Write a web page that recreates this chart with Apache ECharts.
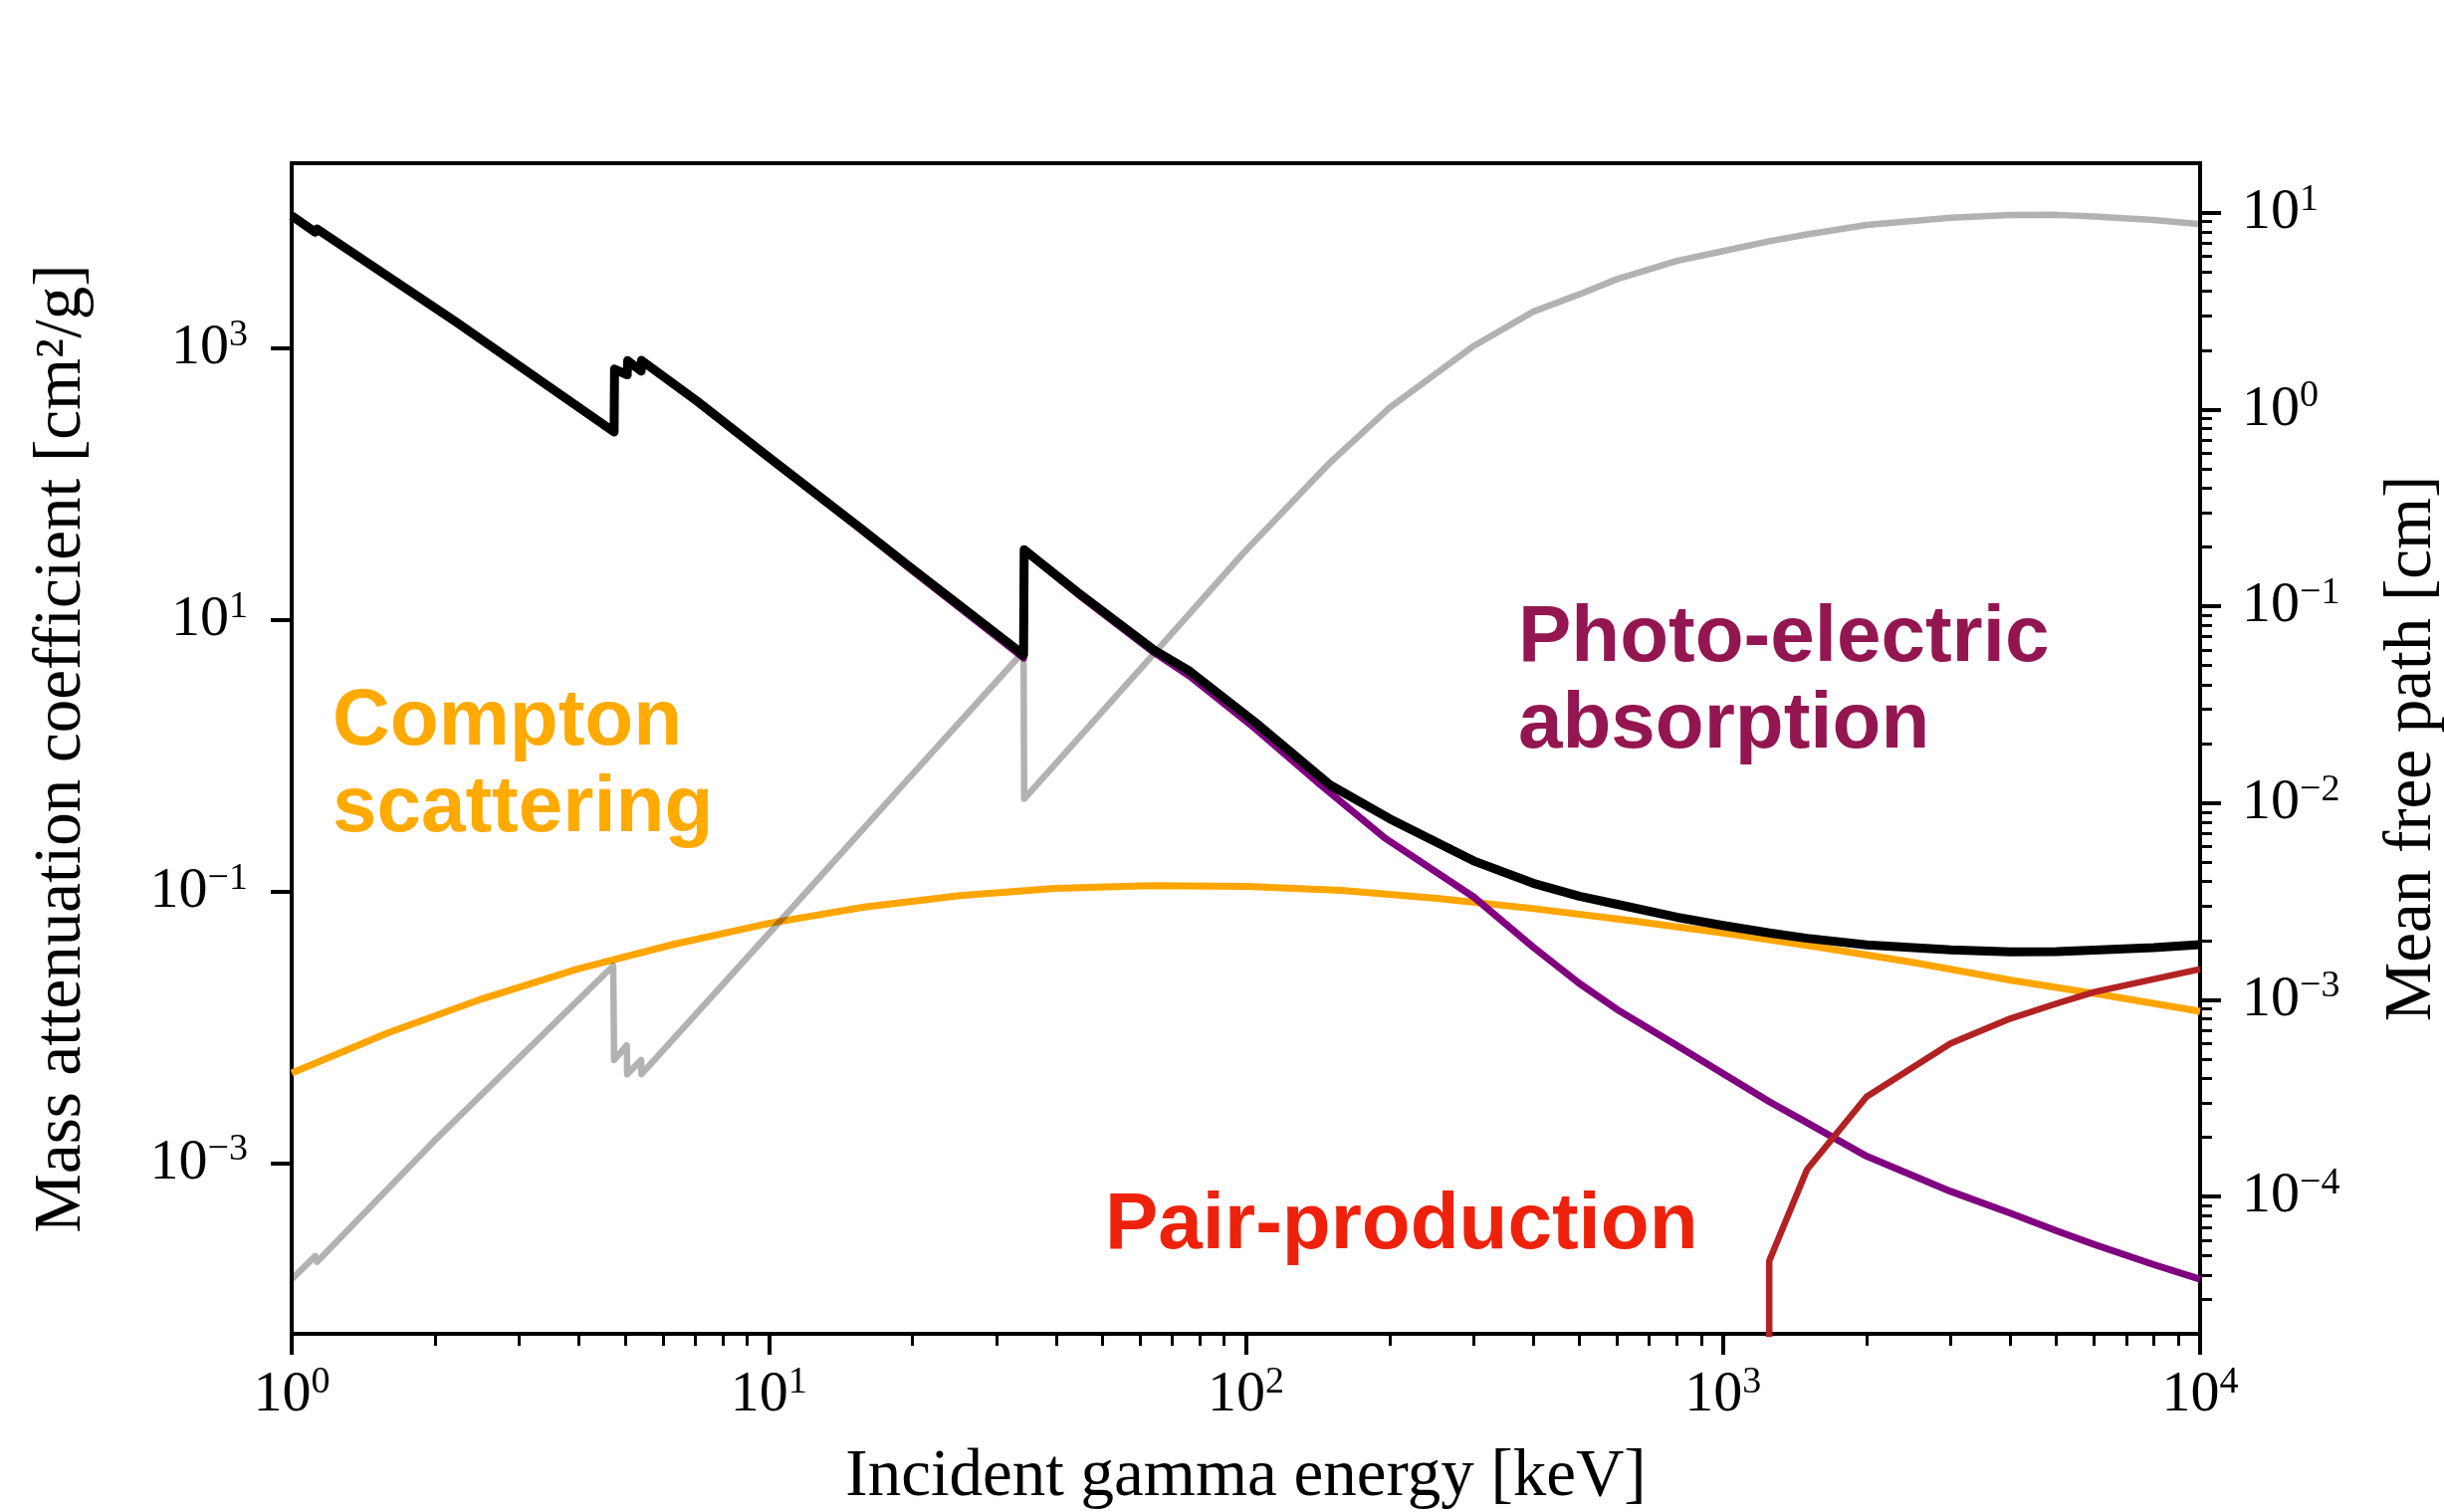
<!DOCTYPE html>
<html>
<head>
<meta charset="utf-8">
<script src="https://cdn.jsdelivr.net/npm/echarts@6/dist/echarts.min.js"></script>
<style>
html,body{margin:0;padding:0;background:#ffffff;}
#chart{width:2455px;height:1519px;}
</style>
</head>
<body>
<div id="chart"></div>
<script>
// ---------------- DATA ----------------
// Total mass attenuation coefficient [cm^2/g] (black)
const totalE  = [1.0, 1.12, 1.13, 2.2, 4.74, 4.75, 5.05, 5.06, 5.40, 5.41, 7.07, 10, 15.4, 20, 34.2, 34.3, 44.4, 64.2, 76.2, 104.2, 150, 200, 300, 400, 500, 600, 800, 1000, 1250, 1500, 2000, 3000, 4000, 5000, 6000, 8000, 10000];
const totalMu = [9510, 7200, 7600, 1590, 243, 705, 640, 813, 682, 818, 410, 158, 49.0, 23.8, 5.54, 32.9, 16.0, 6.0, 4.2, 1.78, 0.610, 0.344, 0.168, 0.115, 0.0923, 0.0804, 0.0646, 0.0562, 0.0495, 0.0452, 0.0404, 0.0372, 0.0359, 0.0361, 0.0370, 0.0386, 0.0406];

// Photo-electric absorption [cm^2/g] (purple)
const photoE  = [1.0, 1.12, 1.13, 2.2, 4.74, 4.75, 5.05, 5.06, 5.40, 5.41, 7.07, 10, 15.4, 20, 34.2, 34.3, 44.4, 64.2, 76.2, 104.2, 142.4, 194.8, 300, 400, 500, 600, 800, 1000, 1250, 1500, 2000, 3000, 4000, 5000, 6000, 8000, 10000];
const photoMu = [9400, 7120, 7520, 1570, 239, 698, 633, 806, 674, 810, 404, 155, 47.8, 23.0, 5.25, 32.3, 15.5, 5.75, 3.85, 1.60, 0.621, 0.250, 0.0912, 0.0389, 0.021, 0.0135, 0.00735, 0.00455, 0.00283, 0.00198, 0.00112, 0.000617, 0.000427, 0.000316, 0.000251, 0.000178, 0.000139];

// Compton scattering [cm^2/g] (orange)
const comptonE  = [1.0, 1.585, 2.512, 3.981, 6.31, 10, 15.85, 25.12, 39.81, 63.1, 100, 158.5, 251.2, 398.1, 631, 1000, 1585, 2512, 3981, 6310, 10000];
const comptonMu = [0.0046, 0.00902, 0.01622, 0.02692, 0.04074, 0.0582, 0.0767, 0.0933, 0.1052, 0.1102, 0.1091, 0.1019, 0.0891, 0.0750, 0.0614, 0.0495, 0.0389, 0.0299, 0.0223, 0.0172, 0.0131];

// Pair production [cm^2/g] (firebrick); zero at threshold, drawn as a vertical drop
const pairE  = [1249, 1250, 1500, 2000, 3000, 4000, 5000, 6000, 10000];
const pairMu = [1e-300, 1.90e-4, 8.93e-4, 3.08e-3, 7.59e-3, 0.01157, 0.01492, 0.01815, 0.0268];

// Mean free path [cm] (grey, right axis)
const mfpE  = [1.0, 1.12, 1.13, 1.99, 4.72, 4.74, 5.04, 5.05, 5.40, 5.41, 10, 20, 34.2, 34.3, 62.9, 98.3, 150, 200, 300, 400, 500, 600, 800, 1000, 1250, 1500, 2000, 3000, 4000, 5000, 6000, 8000, 10000];
const mfpCm = [3.80e-5, 4.99e-5, 4.66e-5, 1.92e-4, 1.49e-3, 4.95e-4, 5.87e-4, 4.19e-4, 4.95e-4, 4.19e-4, 2.17e-3, 0.0140, 0.0589, 0.0105, 0.0544, 0.184, 0.537, 1.02, 2.10, 3.14, 3.85, 4.60, 5.69, 6.38, 7.16, 7.76, 8.67, 9.44, 9.73, 9.75, 9.57, 9.18, 8.75];

// Ticks
const xMajorTicks     = [1, 10, 100, 1000, 10000];
const leftMajorTicks  = [1e-3, 1e-1, 1e1, 1e3];
const rightMajorTicks = [1e-4, 1e-3, 1e-2, 1e-1, 1, 10];
const minorMantissas  = [2, 3, 4, 5, 6, 7, 8, 9];

// Axis ranges
const X_MIN = 1, X_MAX = 1e4;
const LEFT_MIN = 5.508e-5, LEFT_MAX = 23160;
const RIGHT_MIN = 2.009e-5, RIGHT_MAX = 17.84;

// ---------------- BUILD ----------------
const xMinorTicks = [];
[1, 10, 100, 1000].forEach(d => minorMantissas.forEach(m => xMinorTicks.push(m * d)));
const rightMinorTicks = [];
[1e-5, 1e-4, 1e-3, 1e-2, 1e-1, 1].forEach(d => minorMantissas.forEach(m => {
  const v = m * d; if (v > RIGHT_MIN && v < RIGHT_MAX) rightMinorTicks.push(v);
}));

const zip = (a, b) => a.map((v, i) => [v, b[i]]);
const SERIF = '"Liberation Serif", "DejaVu Serif", serif';
const SANS = '"Liberation Sans", Arial, Helvetica, sans-serif';

function sci(v) {
  const n = Math.round(Math.log10(v));
  return '{b|10}{s|' + (n < 0 ? '\u2212' + (-n) : String(n)) + '}';
}
const tickRich = {
  b: {fontFamily: SERIF, fontSize: 58, lineHeight: 64, color: '#000'},
  s: {fontFamily: SERIF, fontSize: 38, lineHeight: 44, verticalAlign: 'top', color: '#000'}
};
const nameStyle = {fontFamily: SERIF, fontSize: 67, color: '#000'};
const majorTick = (vals) => ({show: true, inside: false, length: 21, customValues: vals, lineStyle: {color: '#000', width: 4}});
const minorTick = (vals) => ({show: true, inside: false, length: 12, customValues: vals, lineStyle: {color: '#000', width: 3}});
const axisLineOn = {show: true, onZero: false, lineStyle: {color: '#000', width: 4}};

const chart = echarts.init(document.getElementById('chart'), null, {renderer: 'canvas', width: 2455, height: 1519});

const option = {
  animation: false,
  backgroundColor: '#ffffff',
  grid: {left: 293, right: 245, top: 164, bottom: 179, show: true, borderColor: '#000', borderWidth: 4,
         backgroundColor: 'transparent', containLabel: false, outerBoundsMode: 'none'},
  xAxis: [
    {
      type: 'log', logBase: 10, min: X_MIN, max: X_MAX, position: 'bottom',
      axisLine: axisLineOn, axisTick: majorTick(xMajorTicks),
      axisLabel: {customValues: xMajorTicks, margin: 30, formatter: sci, rich: tickRich},
      splitLine: {show: false}, minorTick: {show: false},
      name: 'Incident gamma energy [keV]', nameLocation: 'middle', nameGap: 111, nameTextStyle: nameStyle
    },
    {
      type: 'log', logBase: 10, min: X_MIN, max: X_MAX, position: 'bottom',
      axisLine: {show: false}, axisTick: minorTick(xMinorTicks),
      axisLabel: {show: false}, splitLine: {show: false}
    }
  ],
  yAxis: [
    {
      type: 'log', logBase: 10, min: LEFT_MIN, max: LEFT_MAX, position: 'left',
      axisLine: axisLineOn, axisTick: majorTick(leftMajorTicks),
      axisLabel: {customValues: leftMajorTicks, margin: 44, formatter: sci, rich: tickRich},
      splitLine: {show: false}, minorTick: {show: false},
      name: 'Mass attenuation coefficient [cm\u00B2/g]', nameLocation: 'middle', nameRotate: 90, nameGap: 197, nameTextStyle: nameStyle
    },
    {
      type: 'log', logBase: 10, min: RIGHT_MIN, max: RIGHT_MAX, position: 'right',
      axisLine: axisLineOn, axisTick: majorTick(rightMajorTicks),
      axisLabel: {customValues: rightMajorTicks, margin: 42, formatter: sci, rich: tickRich},
      splitLine: {show: false}, minorTick: {show: false},
      name: 'Mean free path [cm]', nameLocation: 'middle', nameRotate: 90, nameGap: 180, nameTextStyle: nameStyle
    },
    {
      type: 'log', logBase: 10, min: RIGHT_MIN, max: RIGHT_MAX, position: 'right',
      axisLine: {show: false}, axisTick: minorTick(rightMinorTicks),
      axisLabel: {show: false}, splitLine: {show: false}
    }
  ],
  series: [
    {name: 'Compton scattering', type: 'line', xAxisIndex: 0, yAxisIndex: 0, data: zip(comptonE, comptonMu),
     symbol: 'none', silent: true, clip: true, itemStyle: {color: '#FFA500'}, lineStyle: {color: '#FFA500', width: 7, join: 'round'}},
    {name: 'Photo-electric absorption', type: 'line', xAxisIndex: 0, yAxisIndex: 0, data: zip(photoE, photoMu),
     symbol: 'none', silent: true, clip: true, itemStyle: {color: '#800080'}, lineStyle: {color: '#800080', width: 7, join: 'round'}},
    {name: 'Pair-production', type: 'line', xAxisIndex: 0, yAxisIndex: 0, data: zip(pairE, pairMu),
     symbol: 'none', silent: true, clip: true, itemStyle: {color: '#B22222'}, lineStyle: {color: '#B22222', width: 6.5, join: 'round'}},
    {name: 'Total', type: 'line', xAxisIndex: 0, yAxisIndex: 0, data: zip(totalE, totalMu),
     symbol: 'none', silent: true, clip: true, itemStyle: {color: '#000000'}, lineStyle: {color: '#000000', width: 9, join: 'round'}},
    {name: 'Mean free path', type: 'line', xAxisIndex: 0, yAxisIndex: 1, data: zip(mfpE, mfpCm),
     symbol: 'none', silent: true, clip: true, itemStyle: {color: 'rgba(0,0,0,0.3)'}, lineStyle: {color: 'rgba(0,0,0,0.3)', width: 6.5, join: 'round'}}
  ],
  graphic: [
    {type: 'text', left: 334, top: 682, z: 100, silent: true,
     style: {text: 'Compton\nscattering', font: 'bold 80px ' + SANS, fill: '#FFAA00', lineHeight: 87}},
    {type: 'text', left: 1525, top: 598, z: 100, silent: true,
     style: {text: 'Photo-electric\nabsorption', font: 'bold 80px ' + SANS, fill: '#941651', lineHeight: 87}},
    {type: 'text', left: 1110, top: 1188, z: 100, silent: true,
     style: {text: 'Pair-production', font: 'bold 80px ' + SANS, fill: '#EE220C', lineHeight: 87}}
  ]
};
chart.setOption(option);
</script>
</body>
</html>
